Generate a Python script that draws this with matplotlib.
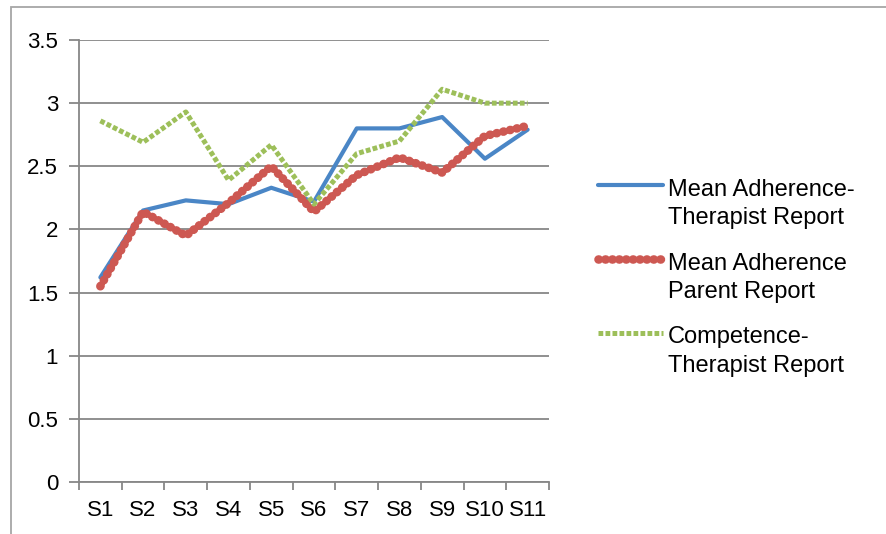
import numpy as np
import matplotlib.pyplot as plt
from matplotlib.patches import Rectangle
from matplotlib.lines import Line2D

plt.rcParams['font.family'] = ['Liberation Sans', 'DejaVu Sans']

sessions = ['S1', 'S2', 'S3', 'S4', 'S5', 'S6', 'S7', 'S8', 'S9', 'S10', 'S11']
adherence_therapist = [1.62, 2.15, 2.23, 2.20, 2.33, 2.22, 2.80, 2.80, 2.89, 2.56, 2.79]
adherence_parent = [1.55, 2.14, 1.95, 2.21, 2.50, 2.14, 2.43, 2.57, 2.45, 2.74, 2.82]
competence_therapist = [2.86, 2.69, 2.93, 2.39, 2.67, 2.20, 2.60, 2.70, 3.11, 3.00, 3.00]
labels = [['Mean Adherence-', 'Therapist Report'],
          ['Mean Adherence', 'Parent Report'],
          ['Competence-', 'Therapist Report']]

W, H = 886, 534
fig = plt.figure(figsize=(W / 100, H / 100), dpi=100)
ax = fig.add_axes([79 / W, 1 - 482 / H, (549 - 79) / W, (482 - 40) / H])

# outer chart border (only top and left visible)
fig.patches.append(Rectangle((11 / W, -0.1), 1.2, 1.1 - 7 / H, transform=fig.transFigure,
                             fill=False, edgecolor='#a6a6a6', linewidth=1.3))

x = np.arange(len(sessions))
grid_c = '#878787'
styles = [
    dict(color='#4a86c6', linewidth=3.0, solid_capstyle='round'),
    dict(color='#cd5852', linewidth=6.2, dashes=(0.05, 0.75), dash_capstyle='round'),
    dict(color='#9dbf5a', linewidth=3.6, dashes=(0.95, 0.45), dash_capstyle='butt'),
]

for vals, st, z in zip([adherence_therapist, adherence_parent, competence_therapist], styles, [3, 4, 5]):
    ax.plot(x, vals, zorder=z, **st)

ax.set_ylim(0, 3.5)
ax.set_xlim(-0.5, len(sessions) - 0.5)
ax.set_yticks(np.arange(0, 3.51, 0.5))
ax.set_yticklabels(['0', '0.5', '1', '1.5', '2', '2.5', '3', '3.5'])
ax.yaxis.grid(True, color=grid_c, linewidth=1.3)
ax.set_axisbelow(True)

ax.set_xticks(x)
ax.set_xticklabels(sessions)
ax.set_xticks(np.arange(-0.5, len(sessions)), minor=True)
ax.tick_params(axis='x', which='major', length=0, pad=13, labelsize=16)
ax.tick_params(axis='x', which='minor', length=6, color=grid_c, width=1.3)
ax.tick_params(axis='y', length=7, color=grid_c, width=1.3, pad=8, labelsize=16)

for s in ['top', 'right']:
    ax.spines[s].set_visible(False)
for s in ['left', 'bottom']:
    ax.spines[s].set_color(grid_c)
    ax.spines[s].set_linewidth(1.3)

# legend, drawn by hand so the key sits on the first text line
handle_y = [185, 259, 333]
base_y = [[196, 224], [270, 298], [343, 372]]
for st, hy, by, lab in zip(styles, handle_y, base_y, labels):
    fig.add_artist(Line2D([598 / W, 663 / W], [1 - hy / H] * 2, transform=fig.transFigure, **st))
    for yy, t in zip(by, lab):
        fig.text(668 / W, 1 - yy / H, t, fontsize=17, va='baseline', ha='left')

fig.savefig('out.png', dpi=100)
